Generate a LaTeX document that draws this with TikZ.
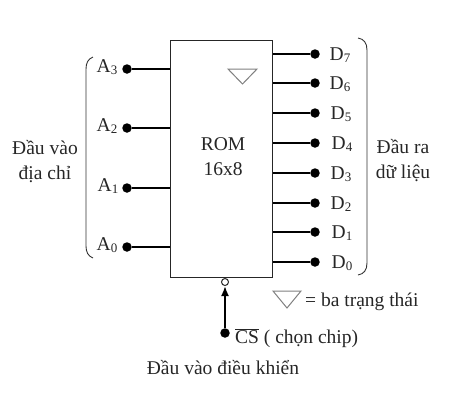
\documentclass[tikz,border=0pt]{standalone}
\usepackage{fontspec}
\setmainfont{Liberation Serif}
\usetikzlibrary{arrows.meta,calc}
\newcommand{\subtxt}[2]{#1\raisebox{-0.12em}{\fontsize{13}{13}\selectfont #2}}
\tikzset{
  x=1pt,y=-1pt,
  txt/.style={font=\fontsize{19.5}{25}\selectfont,inner sep=0pt,align=center,text=black!85},
  pindot/.style={circle,fill=black,inner sep=0pt,minimum size=9.5pt},
  wire/.style={line width=1.8pt,black},
  thin box/.style={draw=black!85,line width=1pt,fill=white},
  bracket/.style={line width=0.9pt,black!80},
  tri/.style={draw=black!50,line width=1pt,fill=white}
}
\begin{document}
\begin{tikzpicture}
\useasboundingbox (0,0) rectangle (456,400);
\node[thin box,minimum width=102pt,minimum height=237pt,inner sep=0pt,anchor=north west] (rom) at (169.5,40) {};
\node[txt] (romt) at (223,157) {ROM\\16x8};
% inputs
\foreach \n/\y/\lx in {3/69/107,2/128/107,1/188/108,0/247/107}{
  \node[pindot] (a\n) at (127,\y) {};
  \node[txt] (la\n) at (\lx,\y-2) {\subtxt{A}{\n}};
  \draw[wire] (a\n) -- (a\n -| rom.west);
}
% outputs
\foreach \n/\y/\lx in {7/54/340,6/83/340,5/113/341,4/143/342,3/173/341,2/203/341,1/232/342,0/262/342}{
  \node[pindot] (d\n) at (315,\y) {};
  \node[txt] (ld\n) at (\lx,\y+1) {\subtxt{D}{\n}};
  \draw[wire] (d\n) -- (d\n -| rom.east);
}
% brackets
\coordinate (bl1) at (93,57); \coordinate (bl2) at (93,258);
\draw[bracket] (bl1) .. controls (88,59) and (86,63) .. (86,69) -- (86,246) .. controls (86,252) and (88,256) .. (bl2);
\coordinate (br1) at (358,38); \coordinate (br2) at (358,275);
\draw[bracket] (br1) .. controls (364,39) and (367,43) .. (367,50) -- (367,263) .. controls (367,270) and (364,274) .. (br2);
% side labels
\node[txt] (inlab) at (45,162) {Đầu vào\\địa chỉ};
\node[txt] (outlab) at (403,161) {Đầu ra\\dữ liệu};
% tri-state symbols
\draw[tri] (228,69) -- (257,69) -- (242.5,84) -- cycle;
\draw[tri] (273,291) -- (301,291) -- (287,308) -- cycle;
\node[txt,anchor=west] (tril) at (305,302) {= ba trạng thái};
% chip select
\node[circle,draw=black!85,line width=1pt,fill=white,inner sep=0pt,minimum size=7pt] (bub) at (225,282) {};
\node[pindot] (cs) at (225,333) {};
\draw[wire,-{Latex[length=10pt,width=8pt]}] (cs) -- (bub);
\draw[line width=1pt,black!85] (bub.north) -- (bub.north |- rom.south);
\node[txt,anchor=west] (csl) at (235,338) {$\overline{\mbox{CS}}$ ( chọn chip)};
\node[txt] (ctl) at (223,368) {Đầu vào điều khiển};
\end{tikzpicture}
\end{document}
